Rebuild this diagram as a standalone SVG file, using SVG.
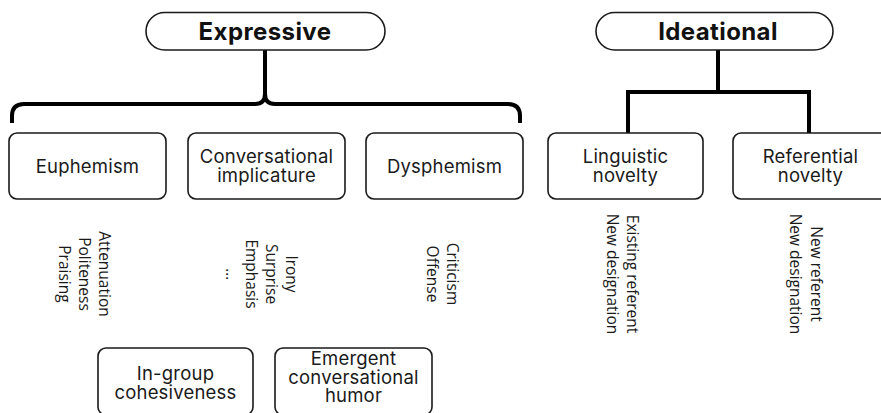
<svg xmlns="http://www.w3.org/2000/svg" width="881" height="413" viewBox="0 0 881 413">
<style>
.pill{fill:#fff;stroke:#1a1a1a;stroke-width:1.6}
.box{fill:#fff;stroke:#1a1a1a;stroke-width:1.6}
.hd{font-family:Inter,"Liberation Sans",sans-serif;font-weight:700;font-size:24px;letter-spacing:0.4px;fill:#111;text-anchor:middle}
.lb{font-family:Inter,"Liberation Sans",sans-serif;font-size:18.5px;letter-spacing:0.2px;fill:#1a1a1a;text-anchor:middle}
.vt{font-family:"Open Sans","Noto Sans",sans-serif;font-size:15.5px;fill:#1a1a1a;text-anchor:middle}
.con{fill:none;stroke:#000;stroke-width:4}
</style>
<rect width="881" height="413" fill="#fff"/>
<g id="connectors">
<path class="con" d="M12 123 V116 Q12 104 24 104 H255 Q265 104 265 94 V50 M265 94 Q265 104 275 104 H508 Q520 104 520 116 V123"/>
<path class="con" stroke-linejoin="miter" d="M718 50 V92 M628 133 V92 H809 V133"/>
</g>
<g id="expressive">
<rect class="pill" x="146" y="12.5" width="239" height="37.5" rx="18.75"/>
<text class="hd" x="265" y="40">Expressive</text>
</g>
<g id="ideational">
<rect class="pill" x="596" y="12.5" width="237" height="37.5" rx="18.75"/>
<text class="hd" x="718" y="40">Ideational</text>
</g>
<g id="euphemism">
<rect class="box" x="9" y="133" width="157" height="66" rx="8"/>
<text class="lb" x="87.5" y="172.5">Euphemism</text>
</g>
<g id="conversational-implicature">
<rect class="box" x="188" y="133" width="157" height="66" rx="8"/>
<text class="lb" x="266.5" y="163"><tspan x="266.5">Conversational</tspan><tspan x="266.5" dy="19">implicature</tspan></text>
</g>
<g id="dysphemism">
<rect class="box" x="366" y="133" width="157" height="66" rx="8"/>
<text class="lb" x="444.5" y="172.5">Dysphemism</text>
</g>
<g id="linguistic-novelty">
<rect class="box" x="548" y="133" width="155" height="66" rx="8"/>
<text class="lb" x="625.5" y="163"><tspan x="625.5">Linguistic</tspan><tspan x="625.5" dy="19">novelty</tspan></text>
</g>
<g id="referential-novelty">
<rect class="box" x="733" y="133" width="155" height="66" rx="8"/>
<text class="lb" x="810.5" y="163"><tspan x="810.5">Referential</tspan><tspan x="810.5" dy="19">novelty</tspan></text>
</g>
<g id="euphemism-items">
<text class="vt" transform="translate(99,274) rotate(90)">Attenuation</text>
<text class="vt" transform="translate(79,274) rotate(90)">Politeness</text>
<text class="vt" transform="translate(59,274) rotate(90)">Praising</text>
</g>
<g id="implicature-items">
<text class="vt" transform="translate(286,274) rotate(90)">Irony</text>
<text class="vt" transform="translate(266,274) rotate(90)">Surprise</text>
<text class="vt" transform="translate(246,274) rotate(90)">Emphasis</text>
<text class="vt" transform="translate(226,274) rotate(90)">...</text>
</g>
<g id="dysphemism-items">
<text class="vt" transform="translate(446.5,274) rotate(90)">Criticism</text>
<text class="vt" transform="translate(426.5,274) rotate(90)">Offense</text>
</g>
<g id="linguistic-items">
<text class="vt" transform="translate(627,274) rotate(90)">Existing referent</text>
<text class="vt" transform="translate(607,274) rotate(90)">New designation</text>
</g>
<g id="referential-items">
<text class="vt" transform="translate(810.5,274) rotate(90)">New referent</text>
<text class="vt" transform="translate(790,274) rotate(90)">New designation</text>
</g>
<g id="in-group-cohesiveness">
<rect class="box" x="98" y="348" width="155" height="67" rx="8"/>
<text class="lb" x="175.5" y="380"><tspan x="175.5">In-group</tspan><tspan x="175.5" dy="18.5">cohesiveness</tspan></text>
</g>
<g id="emergent-humor">
<rect class="box" x="275" y="348" width="157" height="67" rx="8"/>
<text class="lb" x="353.5" y="365"><tspan x="353.5">Emergent</tspan><tspan x="353.5" dy="18.5">conversational</tspan><tspan x="353.5" dy="18.5">humor</tspan></text>
</g>
</svg>
